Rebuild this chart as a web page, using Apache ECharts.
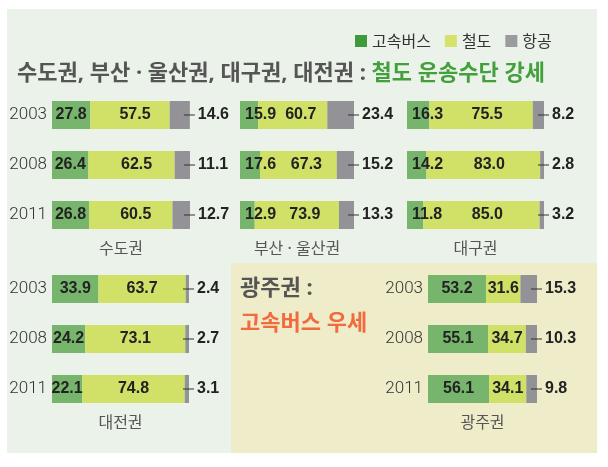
<!DOCTYPE html>
<html><head><meta charset="utf-8">
<script src="https://cdn.jsdelivr.net/npm/echarts@6/dist/echarts.min.js"></script>
<style>html,body{margin:0;padding:0;background:#fff}#c{width:608px;height:467px}</style>
</head><body><div id="c"></div>
<script>
const regions = ['수도권','부산 · 울산권','대구권','대전권','광주권'];
const years = ['2003','2008','2011'];
const seriesNames = ['고속버스','철도','항공'];
const bus  = [[27.8,26.4,26.8],[15.9,17.6,12.9],[16.3,14.2,11.8],[33.9,24.2,22.1],[53.2,55.1,56.1]];
const rail = [[57.5,62.5,60.5],[60.7,67.3,73.9],[75.5,83.0,85.0],[63.7,73.1,74.8],[31.6,34.7,34.1]];
const air  = [[14.6,11.1,12.7],[23.4,15.2,13.3],[8.2,2.8,3.2],[2.4,2.7,3.1],[15.3,10.3,9.8]];

const layout = [
  {left:52,  top:90,  width:138, showYears:true,  busPos:'inside', railOff:[5,0]},
  {left:240, top:90,  width:114, showYears:false, busPos:'insideLeft', railOff:[8,0]},
  {left:407, top:90,  width:137, showYears:false, busPos:'insideLeft', railOff:[6,0]},
  {left:52,  top:264, width:137, showYears:true,  busPos:'inside', railOff:[0,0]},
  {left:428, top:264, width:109, showYears:true,  busPos:'inside', railOff:[0,0]}
];
const colors = {bus:'#77b56c', rail:'#d1e066', air:'#929297'};
const valFont = {fontFamily:'Liberation Sans', fontWeight:'bold', fontSize:16, color:'#222'};
const krFont = 'Noto Sans, Noto Sans CJK KR';

const grid=[], xAxis=[], yAxis=[], series=[], graphics=[];
graphics.push({type:'rect', shape:{x:7,y:9,width:590,height:444}, style:{fill:'#eaf2e9'}, z:-10});
graphics.push({type:'rect', shape:{x:231,y:263,width:366,height:190}, style:{fill:'#efecca'}, z:-9});
graphics.push({type:'text', x:17, y:74, style:{
  text:'{a|수도권, 부산 · 울산권, 대구권, 대전권 : }{b|철도 운송수단 강세}', verticalAlign:'middle',
  rich:{a:{fontFamily:krFont, fontWeight:'bold', fontSize:22, fill:'#555'},
        b:{fontFamily:krFont, fontWeight:'bold', fontSize:22, fill:'#43a03d'}}}});
graphics.push({type:'text', x:240, y:289, style:{text:'광주권 :', verticalAlign:'middle', fontFamily:krFont, fontWeight:'bold', fontSize:22, fill:'#555'}});
graphics.push({type:'text', x:240, y:324, style:{text:'고속버스 우세', verticalAlign:'middle', fontFamily:krFont, fontWeight:'bold', fontSize:22, fill:'#f26b3f'}});

layout.forEach((L,i)=>{
  grid.push({left:L.left, top:L.top, width:L.width, height:150});
  xAxis.push({gridIndex:i, type:'value', min:0, max:100, show:false});
  yAxis.push({gridIndex:i, type:'category', data:years, inverse:true,
    axisLine:{show:false}, axisTick:{show:false},
    axisLabel:{show:L.showYears, margin:5, fontFamily:'Roboto', fontWeight:300, fontSize:17, color:'#333'}});
  series.push({name:seriesNames[0], type:'bar', stack:'s'+i, xAxisIndex:i, yAxisIndex:i, barWidth:28,
    data:bus[i], itemStyle:{color:colors.bus}, silent:true,
    label:{show:true, position:L.busPos, distance:5, formatter:p=>p.value.toFixed(1), ...valFont}});
  series.push({name:seriesNames[1], type:'bar', stack:'s'+i, xAxisIndex:i, yAxisIndex:i, barWidth:28,
    data:rail[i], itemStyle:{color:colors.rail}, silent:true,
    label:{show:true, position:'inside', offset:L.railOff, formatter:p=>p.value.toFixed(1), ...valFont}});
  series.push({name:seriesNames[2], type:'bar', stack:'s'+i, xAxisIndex:i, yAxisIndex:i, barWidth:28,
    data:air[i], itemStyle:{color:colors.air}, silent:true,
    label:{show:true, position:'right', distance:0, offset:[-6,0],
      formatter:p=>'{ln|}{v|'+p.value.toFixed(1)+'}',
      rich:{ln:{width:11, height:1, backgroundColor:'#333'},
            v:{...valFont, padding:[0,0,0,3]}}}});
  const cx = L.left + L.width/2;
  graphics.push({type:'text', x:cx, y:L.top+159, style:{text:regions[i], fontFamily:krFont, fontSize:16, fill:'#555', align:'center', verticalAlign:'middle'}});
});

const chart = echarts.init(document.getElementById('c'), null, {renderer:'canvas'});
chart.setOption({
  animation:false,
  backgroundColor:'#ffffff',
  legend:{left:350, top:28, itemWidth:12, itemHeight:12, itemGap:14, icon:'rect',
    textStyle:{fontFamily:'Noto Sans CJK KR', fontSize:16, color:'#333'},
    data:[{name:'고속버스', itemStyle:{color:'#3e9a3a'}},{name:'철도', itemStyle:{color:'#d5e36c'}},{name:'항공', itemStyle:{color:'#9b9b9f'}}]},
  grid, xAxis, yAxis, series, graphic:graphics
});
</script></body></html>
